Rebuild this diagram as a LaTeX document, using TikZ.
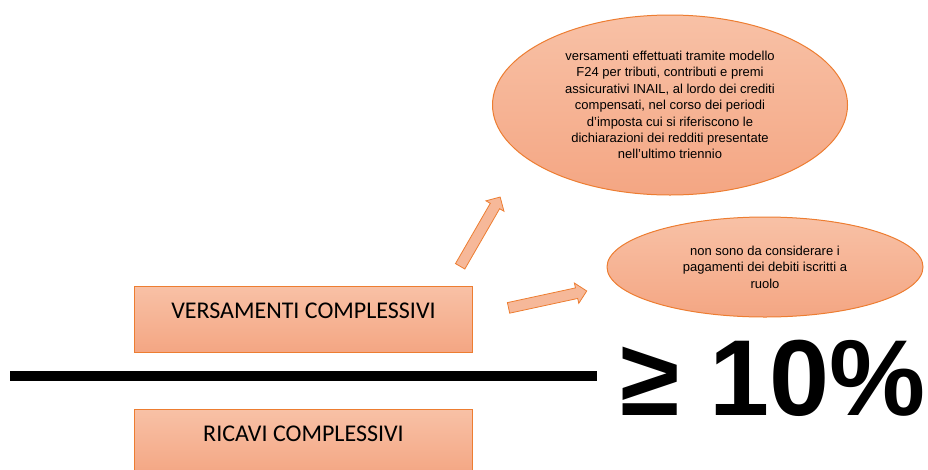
\documentclass[tikz,border=0pt]{standalone}
\usepackage{fontspec}
\setmainfont{Liberation Sans}
\newfontfamily\boxfont{Carlito}
\usepackage{xcolor}
\usepackage{tikz}
\usetikzlibrary{shapes.geometric,shapes.arrows}
\definecolor{peachtop}{HTML}{F8C1A6}
\definecolor{peachbot}{HTML}{F4A683}
\definecolor{peachline}{HTML}{ED7D31}
\definecolor{peacharrow}{HTML}{F6B899}
\tikzset{
    sumbox/.style={draw=peachline, line width=1pt, top color=peachtop, bottom color=peachbot,
        minimum width=338pt, minimum height=66pt, inner sep=0pt, text height=32.5pt, text depth=33.5pt,
        font=\boxfont\fontsize{24}{28}\selectfont},
    note/.style={ellipse, draw=peachline, line width=1pt, top color=peachtop, bottom color=peachbot,
        inner sep=0pt, align=center, font=\fontsize{13}{16.4}\selectfont},
    blockarrow/.style={single arrow, draw=peachline, line width=0.8pt, fill=peacharrow,
        minimum height=80pt, inner xsep=0pt, inner ysep=5pt, text height=0pt, text depth=0pt,
        single arrow head extend=5pt}
}

\begin{document}
\begin{tikzpicture}[x=1pt, y=-1pt]
    \useasboundingbox (0, 0) rectangle (928, 469);
    \node (vers) [sumbox] at (303.5, 319) {VERSAMENTI COMPLESSIVI};
    \node (ricavi) [sumbox] at (303.5, 442) {RICAVI COMPLESSIVI};
    \draw [line width=10pt] (10, 376) -- (597, 376);
    \node (ratio) [anchor=base, inner sep=0pt, font=\bfseries\fontsize{108}{108}\selectfont] at (773, 415) {≥ 10\%};
    \node (f24) [note, minimum width=355pt, minimum height=180pt] at (670, 105)
        {versamenti effettuati tramite modello\\F24 per tributi, contributi e premi\\assicurativi INAIL, al lordo dei crediti\\compensati, nel corso dei periodi\\d’imposta cui si riferiscono le\\dichiarazioni dei redditi presentate\\nell’ultimo triennio};
    \node (ruolo) [note, minimum width=316pt, minimum height=100pt] at (765, 267)
        {non sono da considerare i\\pagamenti dei debiti iscritti a\\ruolo};
    \node (arrf24) [blockarrow, rotate=60] at (478.8, 234) {};
    \node (arrruolo) [blockarrow, rotate=12.2] at (545, 300) {};
\end{tikzpicture}
\end{document}
